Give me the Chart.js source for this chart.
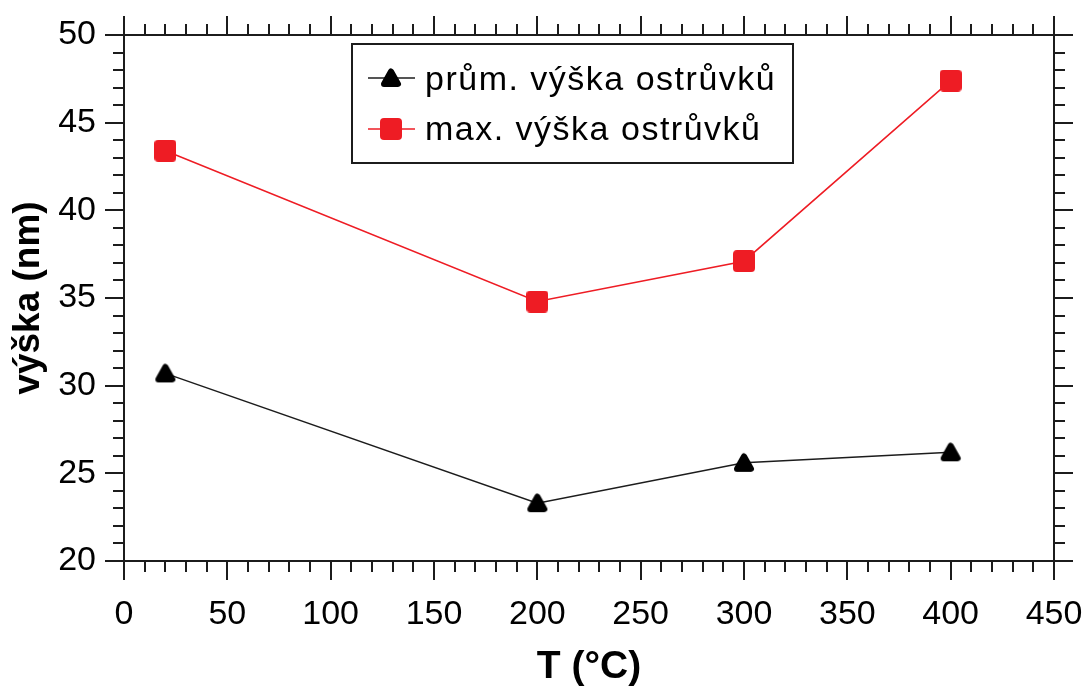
<!DOCTYPE html>
<html lang="cs">
<head>
<meta charset="UTF-8">
<title>výška ostrůvků</title>
<script src="https://cdn.jsdelivr.net/npm/chart.js"></script>
<style>
  body { margin: 0; background: #fff; }
</style>
</head>
<body>
<canvas id="chart" width="1087" height="687"></canvas>
<script>
// data
var temps = [20, 200, 300, 400];
var avgHeight = [30.7, 23.3, 25.6, 26.2];
var maxHeight = [43.4, 34.8, 37.1, 47.4];
var seriesLabels = ['prům. výška ostrůvků', 'max. výška ostrůvků'];

// axis ranges
var xMin = 0, xMax = 450, xMajor = 50, xMinor = 10;
var yMin = 20, yMax = 50, yMajor = 5, yMinor = 1;

var FONT = "'Liberation Sans', Arial, sans-serif";
var RED = '#ee1c24';
var INK = '#1c1c1c';

// marker images
function triangleMarker() {
    var c = document.createElement('canvas');
    c.width = 22; c.height = 22;
    var g = c.getContext('2d');
    g.fillStyle = '#000'; g.strokeStyle = '#000';
    g.lineWidth = 6; g.lineJoin = 'round';
    g.beginPath();
    g.moveTo(11, 4.5); g.lineTo(18, 17); g.lineTo(4, 17); g.closePath();
    g.fill(); g.stroke();
    return c;
}
function squareMarker() {
    var c = document.createElement('canvas');
    c.width = 22; c.height = 22;
    var g = c.getContext('2d');
    g.fillStyle = RED;
    g.beginPath();
    g.roundRect(0, 0, 22, 22, 4);
    g.fill();
    return c;
}
var triImg = triangleMarker();
var sqImg = squareMarker();

// ticks on all four sides, pointing outwards
var frameTicks = {
    id: 'frameTicks',
    afterDraw: function(chart) {
        var ctx = chart.ctx, a = chart.chartArea;
        var x = chart.scales.x, y = chart.scales.y;
        ctx.save();
        ctx.strokeStyle = INK;
        ctx.lineWidth = 2;
        ctx.strokeRect(a.left, a.top, a.right - a.left, a.bottom - a.top);
        ctx.beginPath();
        for (var v = xMin; v <= xMax; v += xMinor) {
            var px = Math.round(x.getPixelForValue(v));
            var len = v % xMajor === 0 ? 19 : 11;
            ctx.moveTo(px, a.bottom); ctx.lineTo(px, a.bottom + len);
            ctx.moveTo(px, a.top); ctx.lineTo(px, a.top - len);
        }
        for (var w = yMin; w <= yMax; w += yMinor) {
            var py = Math.round(y.getPixelForValue(w));
            var l2 = w % yMajor === 0 ? 19 : 11;
            ctx.moveTo(a.left, py); ctx.lineTo(a.left - l2, py);
            ctx.moveTo(a.right, py); ctx.lineTo(a.right + l2, py);
        }
        ctx.stroke();
        ctx.restore();
    }
};

// legend box inside the plot
var boxLegend = {
    id: 'boxLegend',
    afterDraw: function(chart) {
        var ctx = chart.ctx;
        var rows = [
            { y: 78, base: 90, color: INK, img: triImg, text: chart.data.datasets[0].label },
            { y: 129, base: 140, color: RED, img: sqImg, text: chart.data.datasets[1].label }
        ];
        ctx.save();
        ctx.strokeStyle = INK;
        ctx.lineWidth = 2;
        ctx.strokeRect(352, 44, 441, 119);
        rows.forEach(function(r) {
            ctx.strokeStyle = r.color;
            ctx.lineWidth = 1.5;
            ctx.beginPath();
            ctx.moveTo(368, r.y); ctx.lineTo(415, r.y);
            ctx.stroke();
            ctx.drawImage(r.img, 391 - 11, r.y - 11);
            ctx.fillStyle = '#000';
            ctx.font = '34px ' + FONT;
            ctx.letterSpacing = '1.5px';
            ctx.textBaseline = 'alphabetic';
            ctx.fillText(r.text, 425, r.base);
        });
        ctx.restore();
    }
};

var ctx = document.getElementById('chart').getContext('2d');
var myChart = new Chart(ctx, {
    type: 'line',
    data: {
        datasets: [
            {
                label: seriesLabels[0],
                data: temps.map(function(t, i) { return { x: t, y: avgHeight[i] }; }),
                borderColor: INK,
                borderWidth: 1.5,
                pointStyle: triImg,
                fill: false
            },
            {
                label: seriesLabels[1],
                data: temps.map(function(t, i) { return { x: t, y: maxHeight[i] }; }),
                borderColor: RED,
                borderWidth: 1.5,
                pointStyle: sqImg,
                fill: false
            }
        ]
    },
    options: {
        responsive: false,
        animation: false,
        layout: { padding: { top: 35, right: 33, left: 0, bottom: 0 } },
        plugins: {
            legend: { display: false },
            tooltip: { enabled: false }
        },
        scales: {
            x: {
                type: 'linear',
                min: xMin, max: xMax,
                afterFit: function(s) {
                    s.height = 126;
                    s.paddingLeft = 0; s.paddingRight = 0;
                },
                ticks: {
                    stepSize: xMajor,
                    padding: 33,
                    color: '#000',
                    font: { family: FONT, size: 34 },
                    maxRotation: 0
                },
                grid: { display: false, drawTicks: false },
                border: { display: false },
                title: {
                    display: true,
                    text: 'T (°C)',
                    color: '#000',
                    font: { family: FONT, size: 39, weight: 'bold', lineHeight: 1.0 },
                    padding: { top: 0, bottom: 0 }
                }
            },
            y: {
                min: yMin, max: yMax,
                afterFit: function(s) {
                    s.width = 124;
                    s.paddingTop = 0; s.paddingBottom = 0;
                },
                ticks: {
                    stepSize: yMajor,
                    padding: 28,
                    color: '#000',
                    font: { family: FONT, size: 34 }
                },
                grid: { display: false, drawTicks: false },
                border: { display: false },
                title: {
                    display: true,
                    text: 'výška (nm)',
                    color: '#000',
                    font: { family: FONT, size: 37, weight: 'bold' },
                    padding: { top: 7, bottom: 0 }
                }
            }
        }
    },
    plugins: [frameTicks, boxLegend]
});
</script>
</body>
</html>
